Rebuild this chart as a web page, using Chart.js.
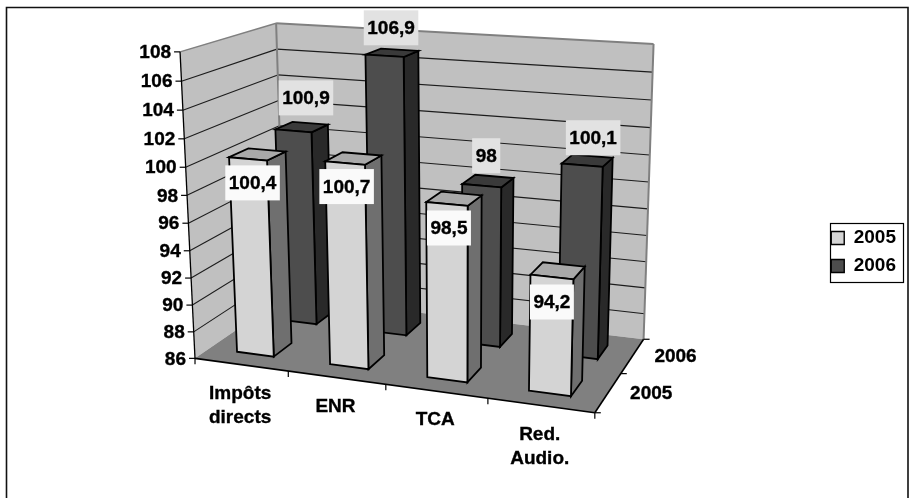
<!DOCTYPE html>
<html><head><meta charset="utf-8">
<style>html,body{margin:0;padding:0;background:#fff}canvas{display:block}</style>
<script src="https://cdn.jsdelivr.net/npm/chart.js@4"></script>
</head><body><canvas id="c" width="909" height="498"></canvas>
<script>
const categories = [["Impôts","directs"],"ENR","TCA",["Red.","Audio."]];
const seriesNames = ["2005","2006"];
const values2005 = [100.4,100.7,98.5,94.2];
const values2006 = [100.9,106.9,98,100.1];
const yMin = 86, yMax = 108, yStep = 2;

// Projection calibration: box corners [u,v,w] -> screen [x,y]
const CAL = [
 [0,0,0,193,358],[0,0,1,182,52],[0,1,0,287,297],[0,1,1,274,23],
 [1,1,0,643,339],[1,1,1,654,44],[1,0,0,595,413]
];
function solve(A,b){const n=b.length;const M=A.map((r,i)=>[...r,b[i]]);
 for(let c=0;c<n;c++){let p=c;for(let r=c+1;r<n;r++)if(Math.abs(M[r][c])>Math.abs(M[p][c]))p=r;
  [M[c],M[p]]=[M[p],M[c]];
  for(let r=0;r<n;r++){if(r===c)continue;const f=M[r][c]/M[c][c];for(let k=c;k<=n;k++)M[r][k]-=f*M[c][k];}}
 return M.map((r,i)=>r[n]/r[i]);}
const P=(()=>{const rows=[],rhs=[];
 CAL.forEach(([u,v,w,x,y])=>{
  rows.push([u,v,w,1,0,0,0,0,-x*u,-x*v,-x*w]);rhs.push(x);
  rows.push([0,0,0,0,u,v,w,1,-y*u,-y*v,-y*w]);rhs.push(y);});
 const n=11,A=Array.from({length:n},()=>Array(n).fill(0)),b=Array(n).fill(0);
 rows.forEach((r,i)=>{for(let a=0;a<n;a++){b[a]+=r[a]*rhs[i];for(let c=0;c<n;c++)A[a][c]+=r[a]*r[c];}});
 return solve(A,b);})();
function proj(u,v,w){const d=P[8]*u+P[9]*v+P[10]*w+1;
 return [(P[0]*u+P[1]*v+P[2]*w+P[3])/d,(P[4]*u+P[5]*v+P[6]*w+P[7])/d];}

const FONT='bold 19px "Liberation Sans", Arial, sans-serif';
const DEPTH=[[0.15,0.35],[0.65,0.85]];
const FACES=[{front:'#D4D4D4',top:'#A9A9A9',side:'#6F6F6F',label:'#FAFAFA'},
             {front:'#4D4D4D',top:'#3A3A3A',side:'#292929',label:'#E2E2E2'}];
const LABEL_NUDGE=[[[4.5,24],[1.5,23.5],[2,24],[0,25]],[[12.5,-33],[6.5,-28],[4.5,-30],[11,-27.5]]];

function poly(ctx,pts,fill,stroke,lw){ctx.beginPath();pts.forEach((p,i)=>i?ctx.lineTo(p[0],p[1]):ctx.moveTo(p[0],p[1]));ctx.closePath();
 if(fill){ctx.fillStyle=fill;ctx.fill();}
 if(stroke){ctx.strokeStyle=stroke;ctx.lineWidth=lw;ctx.lineJoin='miter';ctx.stroke();}}
function seg(ctx,a,b,c,lw){ctx.beginPath();ctx.moveTo(a[0],a[1]);ctx.lineTo(b[0],b[1]);ctx.strokeStyle=c;ctx.lineWidth=lw;ctx.stroke();}
function txt(ctx,s,x,y){ctx.fillStyle='#000';ctx.strokeStyle='#000';ctx.lineWidth=0.35;ctx.fillText(s,x,y);ctx.strokeText(s,x,y);}

const scene={id:'scene',
 beforeDatasetsDraw(chart){
  const ctx=chart.ctx,ca=chart.chartArea,ys=chart.scales.y,xs=chart.scales.x;
  const W=ca.right-ca.left,H=ca.bottom-ca.top;
  const wOf=v=>(ca.bottom-ys.getPixelForValue(v))/H;
  const uOf=px=>(px-ca.left)/W;
  ctx.save();
  // outer frame, open at the bottom
  ctx.beginPath();ctx.moveTo(6.5,498);ctx.lineTo(6.5,7.5);ctx.lineTo(908,7.5);ctx.lineTo(908,498);
  ctx.strokeStyle='#111';ctx.lineWidth=1.6;ctx.stroke();
  // walls and floor
  poly(ctx,[proj(0,0,0),proj(0,1,0),proj(0,1,1),proj(0,0,1)],'#C0C0C0');
  poly(ctx,[proj(0,1,0),proj(1,1,0),proj(1,1,1),proj(0,1,1)],'#C0C0C0');
  poly(ctx,[proj(0,0,0),proj(1,0,0),proj(1,1,0),proj(0,1,0)],'#808080');
  // grid lines
  ys.ticks.forEach(t=>{const w=wOf(t.value);if(w<=0.001||w>=0.999)return;
   seg(ctx,proj(0,0,w),proj(0,1,w),'#1c1c1c',1.1);
   seg(ctx,proj(0,1,w),proj(1,1,w),'#1c1c1c',1.1);});
  // wall outlines
  seg(ctx,proj(0,0,1),proj(0,1,1),'#808080',1.5);
  seg(ctx,proj(0,1,1),proj(1,1,1),'#808080',2);
  seg(ctx,proj(0,1,0),proj(0,1,1),'#808080',2);
  seg(ctx,proj(1,1,0),proj(1,1,1),'#808080',2);
  // axes
  seg(ctx,proj(0,0,0),proj(0,0,1),'#000',1.3);
  seg(ctx,proj(0,0,0),proj(1,0,0),'#000',1.6);
  seg(ctx,proj(1,0,0),proj(1,1,0),'#000',1.6);
  // y ticks and labels
  ctx.font=FONT;ctx.textBaseline='middle';ctx.textAlign='right';
  ys.ticks.forEach(t=>{const p=proj(0,0,wOf(t.value));
   seg(ctx,[p[0]-6,p[1]],p,'#000',1.2);
   txt(ctx,String(t.value),p[0]-9,p[1]+1);});
  // x ticks and labels
  categories.forEach((c,i)=>{
   const u0=i/categories.length,uc=uOf(xs.getPixelForValue(i));
   const t=proj(u0,0,0);seg(ctx,t,[t[0],t[1]+6],'#000',1.2);
   const p=proj(uc,0,0),lines=[].concat(c);
   ctx.textAlign='center';
   lines.forEach((l,k)=>txt(ctx,l,p[0]-1,p[1]+29+k*24.5));
  });
  { const t=proj(1,0,0);seg(ctx,t,[t[0],t[1]+6],'#000',1.2); }
  // depth ticks and labels
  seriesNames.forEach((n,i)=>{
   const a=proj(1,(i+1)/seriesNames.length,0);seg(ctx,a,[a[0]+6,a[1]],'#000',1.2);
   const b=proj(1,(i+0.5)/seriesNames.length,0);
   ctx.textAlign='center';txt(ctx,n,b[0]+43,b[1]+1);
  });
  {const a=proj(1,0,0);seg(ctx,a,[a[0]+6,a[1]],'#000',1.2);}
  // bars, back row first
  const tops=[];
  for(let d=chart.data.datasets.length-1;d>=0;d--){
   const [v0,v1]=DEPTH[d],f=FACES[d];
   chart.getDatasetMeta(d).data.forEach((el,i)=>{
    const u0=uOf(el.x-el.width/2),u1=uOf(el.x+el.width/2),w=(ca.bottom-el.y)/H;
    poly(ctx,[proj(u1,v0,0),proj(u1,v1,0),proj(u1,v1,w),proj(u1,v0,w)],f.side,'#000',1.8);
    poly(ctx,[proj(u0,v0,w),proj(u1,v0,w),proj(u1,v1,w),proj(u0,v1,w)],f.top,'#000',1.8);
    poly(ctx,[proj(u0,v0,0),proj(u1,v0,0),proj(u1,v0,w),proj(u0,v0,w)],f.front,'#000',1.8);
    const a=proj(u0,v0,w),b=proj(u1,v0,w);
    tops.push({d,i,x:(a[0]+b[0])/2,y:(a[1]+b[1])/2,v:chart.data.datasets[d].data[i]});
   });
  }
  // value labels
  ctx.font=FONT;ctx.textAlign='center';ctx.textBaseline='middle';
  tops.forEach(t=>{const s=String(t.v).replace('.',','),n=LABEL_NUDGE[t.d][t.i];
   const cx=t.x+n[0],cy=t.y+n[1],bw=ctx.measureText(s).width+7;
   ctx.fillStyle=FACES[t.d].label;ctx.fillRect(cx-bw/2,cy-17.5,bw,35);
   txt(ctx,s,cx,cy+1);});
  // legend frame
  ctx.strokeStyle='#000';ctx.lineWidth=1.2;ctx.strokeRect(830.5,223.5,73,59);
  ctx.restore();
  return false;
 }};

new Chart(document.getElementById('c'),{
 type:'bar',
 data:{labels:categories,datasets:[
  {label:seriesNames[0],data:values2005,backgroundColor:FACES[0].front,borderColor:'#000',borderWidth:1.4},
  {label:seriesNames[1],data:values2006,backgroundColor:FACES[1].front,borderColor:'#000',borderWidth:1.4}]},
 options:{responsive:false,animation:false,
  layout:{padding:{top:20,bottom:14,left:10,right:3}},
  datasets:{bar:{grouped:false,barPercentage:0.4,categoryPercentage:1}},
  scales:{
   x:{display:false},
   y:{display:false,min:yMin,max:yMax,ticks:{stepSize:yStep}}},
  plugins:{tooltip:{enabled:false},
   legend:{position:'right',labels:{boxWidth:13,boxHeight:13,padding:9,color:'#000',
     font:{family:'"Liberation Sans", Arial, sans-serif',size:19,weight:'bold'}}}}},
 plugins:[scene]
});
</script></body></html>
